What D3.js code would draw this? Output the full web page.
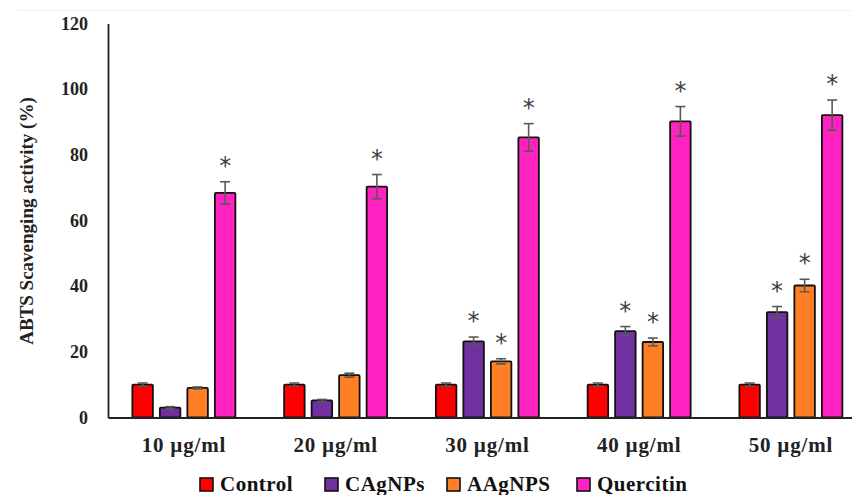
<!DOCTYPE html>
<html>
<head>
<meta charset="utf-8">
<script src="https://cdn.jsdelivr.net/npm/d3@7"></script>
<style>
  body { margin: 0; background: #fff; }
  svg { display: block; font-family: "Liberation Serif", "DejaVu Serif", serif; }
</style>
</head>
<body>
<div id="chart"></div>
<script>
// data
var groups = ["10 µg/ml", "20 µg/ml", "30 µg/ml", "40 µg/ml", "50 µg/ml"];
var series = ["Control", "CAgNPs", "AAgNPS", "Quercitin"];
var colors = ["#ff0000", "#7030a0", "#ff8024", "#ff21c0"];

var control   = [10, 10, 10, 10, 10];
var cagnps    = [3, 5.2, 23.2, 26.3, 32.1];
var aagnps    = [9, 12.9, 17.1, 23, 40.2];
var quercitin = [68.4, 70.3, 85.3, 90.2, 92.1];

var controlErr   = [0.5, 0.5, 0.5, 0.5, 0.5];
var cagnpsErr    = [0.3, 0.3, 1.3, 1.4, 1.7];
var aagnpsErr    = [0.3, 0.6, 0.8, 1.2, 1.9];
var quercitinErr = [3.4, 3.7, 4.2, 4.5, 4.6];

// significance marks (1 = asterisk)
var controlSig   = [0, 0, 0, 0, 0];
var cagnpsSig    = [0, 0, 1, 1, 1];
var aagnpsSig    = [0, 0, 1, 1, 1];
var quercitinSig = [1, 1, 1, 1, 1];

var yTicks = [0, 20, 40, 60, 80, 100, 120];

var values = [control, cagnps, aagnps, quercitin];
var errs = [controlErr, cagnpsErr, aagnpsErr, quercitinErr];
var sigs = [controlSig, cagnpsSig, aagnpsSig, quercitinSig];

var width = 852, height = 495;

var svg = d3.select("#chart").append("svg")
    .attr("width", width)
    .attr("height", height);

// faint line on top of the figure
svg.append("line")
    .attr("x1", 18).attr("x2", width)
    .attr("y1", 10.5).attr("y2", 10.5)
    .attr("stroke", "#f0f0f0");

var x0 = d3.scaleBand()
    .domain(groups)
    .range([108, 866.75]);

var x1 = d3.scaleBand()
    .domain(series)
    .range([0, x0.bandwidth()])
    .paddingInner(0.2)
    .paddingOuter(0.859);

var y = d3.scaleLinear()
    .domain([0, 120])
    .range([417.5, 23.5]);

var rows = [];
groups.forEach(function(g, i) {
    series.forEach(function(s, j) {
        rows.push({g: g, s: s, j: j, v: values[j][i], e: errs[j][i], sig: sigs[j][i]});
    });
});

var bars = svg.append("g");
bars.selectAll("rect")
    .data(rows)
    .enter()
    .append("rect")
    .attr("x", function(d) { return x0(d.g) + x1(d.s) + 0.75; })
    .attr("y", function(d) { return y(d.v); })
    .attr("width", x1.bandwidth() - 1.5)
    .attr("height", function(d) { return y(0) - y(d.v); })
    .attr("fill", function(d) { return colors[d.j]; })
    .attr("stroke", "#111")
    .attr("stroke-width", 1.8)
    .attr("stroke-linejoin", "round")
    .attr("rx", 1);

// error bars
var eb = svg.append("g")
    .attr("stroke", "#595959")
    .attr("stroke-width", 1.6);
rows.forEach(function(d) {
    var cx = x0(d.g) + x1(d.s) + x1.bandwidth() / 2;
    var hi = y(d.v + d.e), lo = y(d.v - d.e);
    eb.append("line").attr("x1", cx).attr("x2", cx).attr("y1", hi).attr("y2", lo);
    eb.append("line").attr("x1", cx - 5).attr("x2", cx + 5).attr("y1", hi).attr("y2", hi);
    eb.append("line").attr("x1", cx - 5).attr("x2", cx + 5).attr("y1", lo).attr("y2", lo);
});

// asterisks
svg.append("g").selectAll("text")
    .data(rows.filter(function(d) { return d.sig; }))
    .enter()
    .append("text")
    .attr("x", function(d) { return x0(d.g) + x1(d.s) + x1.bandwidth() / 2; })
    .attr("y", function(d) { return y(d.v + d.e) - 8; })
    .attr("text-anchor", "middle")
    .attr("font-family", "DejaVu Sans, sans-serif")
    .attr("font-size", 24)
    .attr("fill", "#404040")
    .text("*");

// axes
var yAxis = d3.axisLeft(y)
    .tickValues(yTicks)
    .tickSize(0)
    .tickPadding(20);

var gy = svg.append("g")
    .attr("transform", "translate(108,0)")
    .call(yAxis);
gy.select(".domain").attr("stroke", "#222").attr("stroke-width", 1.8);
gy.selectAll("text")
    .attr("font-family", "Liberation Serif, serif")
    .attr("font-size", 18)
    .attr("font-weight", "bold")
    .attr("fill", "#222");

var xAxis = d3.axisBottom(x0)
    .tickSize(0)
    .tickPadding(20);

var gx = svg.append("g")
    .attr("transform", "translate(0," + y(0) + ")")
    .call(xAxis);
gx.select(".domain").attr("stroke", "#222").attr("stroke-width", 1.8);
gx.selectAll("text")
    .attr("font-family", "Liberation Serif, serif")
    .attr("font-size", 21)
    .attr("font-weight", "bold")
    .attr("letter-spacing", 0.8)
    .attr("fill", "#222");

svg.append("text")
    .attr("transform", "translate(33,221) rotate(-90)")
    .attr("text-anchor", "middle")
    .attr("font-size", 19)
    .attr("font-weight", "bold")
    .attr("fill", "#222")
    .text("ABTS Scavenging activity (%)");

// legend
var legendX = [200, 325, 447, 577];
var legend = svg.append("g").selectAll("g")
    .data(series)
    .enter()
    .append("g")
    .attr("transform", function(d, i) { return "translate(" + legendX[i] + ",478)"; });
legend.append("rect")
    .attr("width", 13).attr("height", 13)
    .attr("fill", function(d, i) { return colors[i]; })
    .attr("stroke", "#111")
    .attr("stroke-width", 1.6);
legend.append("text")
    .attr("x", 20).attr("y", 13)
    .attr("font-size", 21)
    .attr("font-weight", "bold")
    .attr("letter-spacing", 0.5)
    .attr("fill", "#111")
    .text(function(d) { return d; });
</script>
</body>
</html>
